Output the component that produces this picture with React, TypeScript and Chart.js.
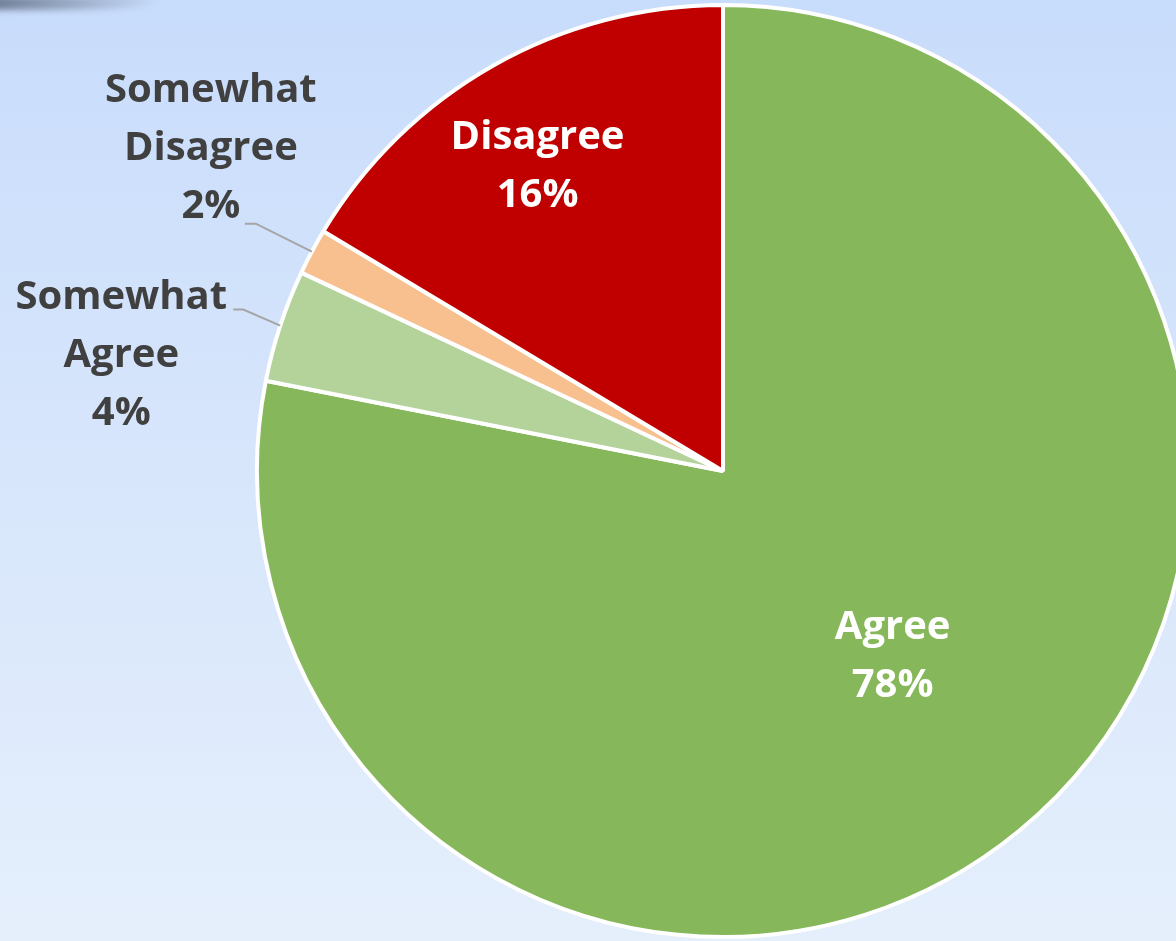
import React, { useEffect, useRef } from "react";
import { Chart, registerables } from "chart.js";

Chart.register(...registerables);

// ---- data ----
const categories = ["Agree", "Somewhat Agree", "Somewhat Disagree", "Disagree"];
const shares = [78.1, 3.9, 1.6, 16.4];
const percentLabels = ["78%", "4%", "2%", "16%"];
const labelLines = [["Agree"], ["Somewhat", "Agree"], ["Somewhat", "Disagree"], ["Disagree"]];
const sliceColors = ["#86b75a", "#b3d39a", "#f9c08f", "#c00000"];

// ---- label layout (relative to arc geometry) ----
type Inside = { kind: "inside"; nx: number; ny: number };
type Outside = { kind: "outside"; ex: number; ey: number; hLen: number; tx: number; ty: number };
const labelLayout: (Inside | Outside)[] = [
  { kind: "inside", nx: 0.364, ny: 0.398 },
  { kind: "outside", ex: -37, ey: -16, hLen: 10, tx: -112, ty: -12 },
  { kind: "outside", ex: -56, ey: -28, hLen: 11, tx: -34, ty: -133 },
  { kind: "inside", nx: -0.398, ny: -0.653 },
];

const FONT = "bold 40px 'Open Sans', 'Noto Sans', sans-serif";
const LINE_H = 58;

const labelPlugin = {
  id: "sliceLabels",
  afterDraw(chart: any) {
    const ctx = chart.ctx as CanvasRenderingContext2D;
    const meta = chart.getDatasetMeta(0);
    ctx.save();
    ctx.font = FONT;
    ctx.textAlign = "center";
    ctx.textBaseline = "middle";
    meta.data.forEach((arc: any, i: number) => {
      const { x, y, startAngle, endAngle, outerRadius } = arc.getProps(
        ["x", "y", "startAngle", "endAngle", "outerRadius"],
        true
      );
      const lines = [...labelLines[i], percentLabels[i]];
      const lay = labelLayout[i];
      if (lay.kind === "inside") {
        const cx = x + lay.nx * outerRadius;
        const cy = y + lay.ny * outerRadius;
        const top = cy - ((lines.length - 1) * LINE_H) / 2;
        ctx.fillStyle = "#ffffff";
        lines.forEach((t, k) => ctx.fillText(t, cx, top + k * LINE_H));
      } else {
        const mid = (startAngle + endAngle) / 2;
        const px = x + Math.cos(mid) * outerRadius;
        const py = y + Math.sin(mid) * outerRadius;
        const bx = px + lay.ex;
        const by = py + lay.ey;
        const sx = bx - lay.hLen;
        ctx.strokeStyle = "#a5a5a5";
        ctx.lineWidth = 2;
        ctx.beginPath();
        ctx.moveTo(px, py);
        ctx.lineTo(bx, by);
        ctx.lineTo(sx, by);
        ctx.stroke();
        ctx.fillStyle = "#404040";
        const cx = sx + lay.tx;
        const top = by + lay.ty;
        lines.forEach((t, k) => ctx.fillText(t, cx, top + k * LINE_H));
      }
    });
    ctx.restore();
  },
};

export default function App() {
  const ref = useRef<HTMLCanvasElement | null>(null);
  useEffect(() => {
    document.body.style.margin = "0";
    if (!ref.current) return;
    const chart = new Chart(ref.current, {
      type: "pie",
      data: {
        labels: categories,
        datasets: [
          {
            data: shares,
            backgroundColor: sliceColors,
            borderColor: "#ffffff",
            borderWidth: 4,
          },
        ],
      },
      options: {
        responsive: false,
        animation: false,
        layout: { padding: { left: 255, top: 3, right: 9, bottom: 2 } },
        plugins: {
          legend: { display: false },
          tooltip: { enabled: false },
          title: { display: false },
        },
      },
      plugins: [labelPlugin],
    });
    return () => chart.destroy();
  }, []);
  return (
    <div
      style={{
        position: "relative",
        width: 1176,
        height: 941,
        overflow: "hidden",
        background: "linear-gradient(180deg, #c8dcfb 0%, #d6e5fb 45%, #e5effc 100%)",
      }}
    >
      <div
        style={{
          position: "absolute",
          left: -10,
          top: -4,
          width: 170,
          height: 14,
          borderRadius: "0 0 60% 0",
          background: "linear-gradient(90deg, rgba(50,60,80,0.6), rgba(50,60,80,0))",
          filter: "blur(3px)",
        }}
      />
      <canvas ref={ref} width={1200} height={941} style={{ position: "absolute", left: 0, top: 0 }} />
    </div>
  );
}
